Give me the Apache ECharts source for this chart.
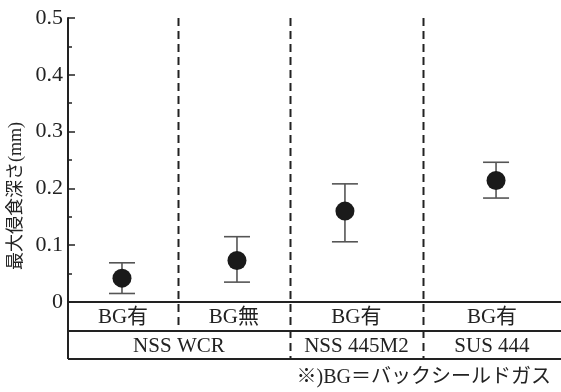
<!DOCTYPE html>
<html><head><meta charset="utf-8">
<script src="https://cdn.jsdelivr.net/npm/echarts@6/dist/echarts.min.js"></script>
<style>html,body{margin:0;padding:0;background:#fff}#c{width:561px;height:392px}</style>
</head><body><div id="c"></div>
<script>
// ---- data ----
var pointX = [0.438, 1.371, 2.247, 3.473];       // position of each sample along the row
var depthMean = [0.042, 0.073, 0.160, 0.214];   // mm
var depthLow  = [0.015, 0.035, 0.106, 0.183];
var depthHigh = [0.069, 0.115, 0.208, 0.246];
var dividers = [0.892, 1.80, 2.88];              // group boundaries
var conditions = ['BG有', 'BG無', 'BG有', 'BG有'];
var materials = ['NSS WCR', 'NSS 445M2', 'SUS 444'];
var materialSpans = [[0, 1.80], [1.80, 2.88], [2.88, 4]];
var yTicks = [0, 0.1, 0.2, 0.3, 0.4, 0.5];
var yTitle = '最大侵食深さ(mm)';
var note = '※)BG＝バックシールドガス';

var FONT = '"Liberation Serif", "Noto Sans CJK JP", serif';
var INK = '#222';

var chart = echarts.init(document.getElementById('c'), null, {renderer: 'canvas'});

var cellBounds = [0].concat(dividers).concat([4]);

function tableRender(params, api) {
  var children = [];
  var yTop = api.coord([0, 0.5])[1];
  var y0 = api.coord([0, 0])[1];
  var r1 = y0 + 29, r2 = y0 + 57;
  var xL = api.coord([0, 0])[0], xR = api.coord([4, 0])[0];
  // horizontal lines
  [r1, r2].forEach(function (y) {
    children.push({type: 'line', shape: {x1: xL, y1: y, x2: xR, y2: y}, style: {stroke: INK, lineWidth: 2}});
  });
  children.push({type: 'line', shape: {x1: xL, y1: y0, x2: xL, y2: r2}, style: {stroke: INK, lineWidth: 2}});
  // dashed dividers
  dividers.forEach(function (d, i) {
    var x = Math.round(api.coord([d, 0])[0]) + 0.5;
    var yEnd = (i === 0) ? r1 : r2;
    children.push({type: 'line', shape: {x1: x, y1: yTop, x2: x, y2: yEnd},
      style: {stroke: INK, lineWidth: 2, lineDash: [8, 5]}});
  });
  // condition labels
  conditions.forEach(function (t, i) {
    var cx = api.coord([(cellBounds[i] + cellBounds[i + 1]) / 2, 0])[0];
    children.push({type: 'text', style: {text: t, x: cx, y: (y0 + r1) / 2 + 1, align: 'center', verticalAlign: 'middle',
      font: '21px ' + FONT, fill: INK}});
  });
  materials.forEach(function (t, i) {
    var cx = api.coord([(materialSpans[i][0] + materialSpans[i][1]) / 2, 0])[0];
    children.push({type: 'text', style: {text: t, x: cx, y: (r1 + r2) / 2 + 1, align: 'center', verticalAlign: 'middle',
      font: '21px ' + FONT, fill: INK}});
  });
  return {type: 'group', children: children};
}

function errRender(params, api) {
  var x = api.value(0);
  var lo = api.coord([x, api.value(1)]);
  var hi = api.coord([x, api.value(2)]);
  var w = 13;
  var st = {stroke: '#555', lineWidth: 1.6};
  return {type: 'group', children: [
    {type: 'line', shape: {x1: lo[0], y1: lo[1], x2: hi[0], y2: hi[1]}, style: st},
    {type: 'line', shape: {x1: lo[0] - w, y1: lo[1], x2: lo[0] + w, y2: lo[1]}, style: st},
    {type: 'line', shape: {x1: hi[0] - w, y1: hi[1], x2: hi[0] + w, y2: hi[1]}, style: st}
  ]};
}

var option = {
  animation: false,
  backgroundColor: '#fff',
  grid: {left: 68, right: 0, top: 18, bottom: 90},
  xAxis: [
    {type: 'value', min: 0, max: 4, position: 'bottom',
      axisLine: {show: true, onZero: false, lineStyle: {color: INK, width: 2}},
      axisTick: {show: false}, axisLabel: {show: false}, splitLine: {show: false}},
    {type: 'value', min: 0, max: 4, position: 'top',
      axisLine: {show: true, lineStyle: {color: INK, width: 2}},
      axisTick: {show: false}, axisLabel: {show: false}, splitLine: {show: false}}
  ],
  yAxis: {
    type: 'value', min: yTicks[0], max: yTicks[yTicks.length - 1], interval: 0.1,
    axisLine: {show: true, lineStyle: {color: INK, width: 2}},
    axisTick: {show: true, inside: true, length: 7, lineStyle: {color: INK, width: 1.5}},
    minorTick: {show: true, splitNumber: 2, length: 4, lineStyle: {color: INK, width: 1.5}},
    splitLine: {show: false},
    axisLabel: {margin: 5, color: INK, fontFamily: FONT, fontSize: 22,
      formatter: function (v) { return v === 0 ? '0' : v.toFixed(1); }}
  },
  graphic: [
    {type: 'text', left: 7, top: 'middle', rotation: Math.PI / 2, x: 17, y: 180,
      style: {text: yTitle, font: '18px ' + FONT, fill: INK, align: 'center', verticalAlign: 'middle'}},
    {type: 'text', right: 10, bottom: 4,
      style: {text: note, font: '20px ' + FONT, fill: INK}}
  ],
  series: [
    {type: 'custom', renderItem: tableRender, data: [[0, 0]], clip: false, silent: true, z: 1},
    {type: 'custom', renderItem: errRender, z: 3, silent: true,
      data: pointX.map(function (x, i) { return [x, depthLow[i], depthHigh[i]]; })},
    {type: 'scatter', symbol: 'circle', symbolSize: 19, z: 4, silent: true,
      itemStyle: {color: '#1a1a1a', opacity: 1},
      data: pointX.map(function (x, i) { return [x, depthMean[i]]; })}
  ]
};
chart.setOption(option);
</script></body></html>
